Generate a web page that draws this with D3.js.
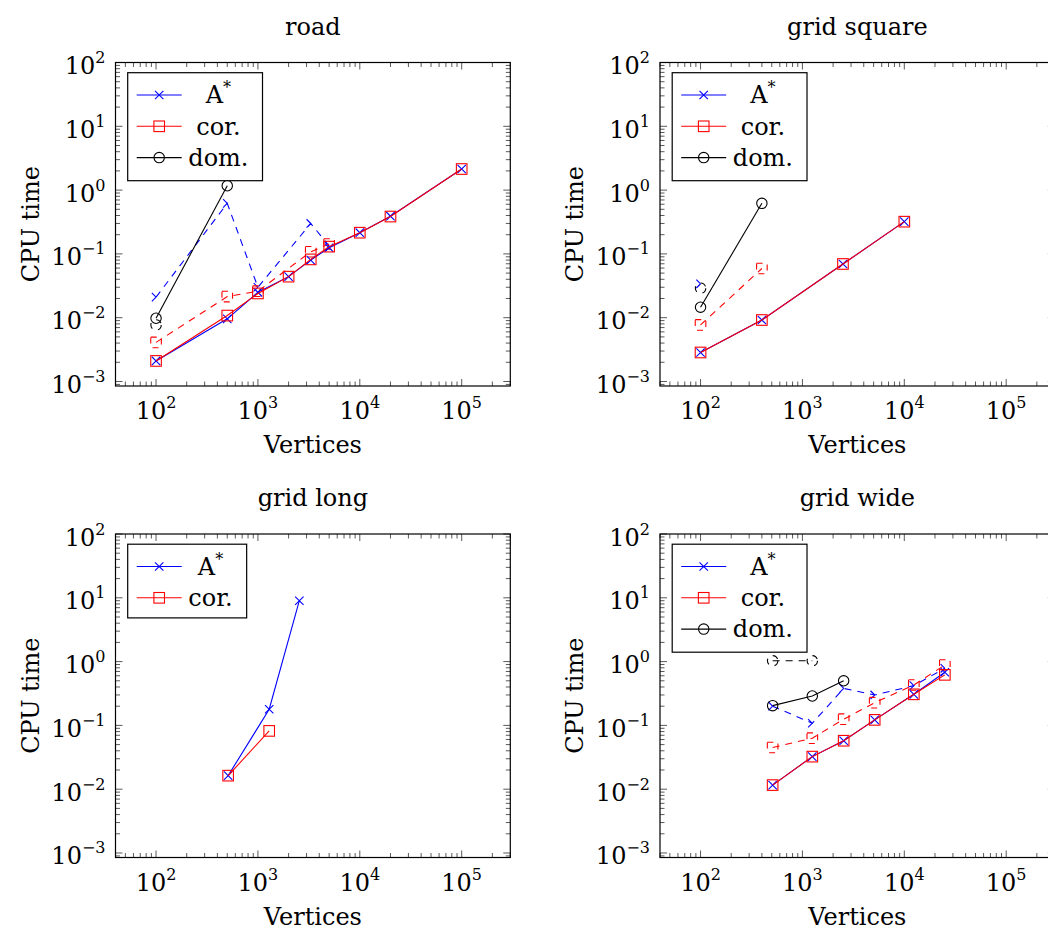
<!DOCTYPE html>
<html>
<head>
<meta charset="utf-8">
<script src="https://cdn.jsdelivr.net/npm/d3@7"></script>
<style>
  html, body { margin: 0; padding: 0; background: #fff; }
  text { font-family: "DejaVu Serif", serif; fill: #000; }
</style>
</head>
<body>
<svg id="chart" width="1048" height="929"></svg>
<script>
// ---------- data ----------
const xTicks = [1e2, 1e3, 1e4, 1e5];
const yTicks = [1e-3, 1e-2, 1e-1, 1e0, 1e1, 1e2];
const xTickExp = ["2", "3", "4", "5"];
const yTickExp = ["\u22123", "\u22122", "\u22121", "0", "1", "2"];
const xDomain = [40, 300000];
const yDomain = [0.00085, 100];

const panelTitles = ["road", "grid square", "grid long", "grid wide"];
const legendNames = ["A", "cor.", "dom."];

// road
const roadX = [100, 500, 1000, 2000, 3300, 5000, 10000, 20000, 100000];
const roadAstar = [0.0021, 0.0096, 0.025, 0.044, 0.080, 0.125, 0.215, 0.39, 2.14];
const roadCor = [0.0021, 0.0108, 0.024, 0.044, 0.082, 0.13, 0.215, 0.385, 2.14];
const roadDomX = [100, 500];
const roadDom = [0.0098, 1.17];
const roadAstarDashX = [100, 500, 1000, 3300, 5000];
const roadAstarDash = [0.021, 0.62, 0.030, 0.30, 0.133];
const roadCorDashX = [100, 500, 1000, 3300, 5000];
const roadCorDash = [0.0041, 0.0214, 0.026, 0.108, 0.143];
const roadDomDashX = [100];
const roadDomDash = [0.0077];

// grid square
const sqX = [100, 400, 2500, 10000];
const sqAstar = [0.00285, 0.0092, 0.0695, 0.32];
const sqCor = [0.00285, 0.0092, 0.0695, 0.32];
const sqDomX = [100, 400];
const sqDom = [0.0146, 0.62];
const sqAstarDashX = [100];
const sqAstarDash = [0.034];
const sqCorDashX = [100, 400];
const sqCorDash = [0.0077, 0.059];
const sqDomDashX = [100];
const sqDomDash = [0.029];

// grid long
const longX = [510, 1290, 2550];
const longAstar = [0.0163, 0.179, 9.0];
const longCorX = [510, 1290];
const longCor = [0.0163, 0.082];

// grid wide
const wideX = [510, 1250, 2540, 5120, 12400, 25000];
const wideAstar = [0.0116, 0.0324, 0.0575, 0.122, 0.307, 0.68];
const wideCor = [0.0116, 0.0324, 0.0575, 0.122, 0.307, 0.62];
const wideDomX = [510, 1250, 2540];
const wideDom = [0.204, 0.289, 0.50];
const wideAstarDash = [0.20, 0.108, 0.38, 0.30, 0.42, 0.785];
const wideCorDash = [0.045, 0.063, 0.125, 0.227, 0.43, 0.885];
const wideDomDashX = [510, 1250];
const wideDomDash = [1.03, 1.03];

// ---------- build ----------
const zip = (xs, ys) => xs.map((x, i) => [x, ys[i]]);
const BLUE = "#0000ff", RED = "#ff0000", BLACK = "#000000";
const styles = {
  A: { color: BLUE, marker: "cross" },
  cor: { color: RED, marker: "square" },
  dom: { color: BLACK, marker: "circle" }
};

const panels = [
  { title: panelTitles[0], left: 115.5, top: 62.5, legend: 3,
    series: [
      { s: "A", dash: true, pts: zip(roadAstarDashX, roadAstarDash) },
      { s: "cor", dash: true, pts: zip(roadCorDashX, roadCorDash) },
      { s: "dom", dash: true, pts: zip(roadDomDashX, roadDomDash) },
      { s: "A", dash: false, pts: zip(roadX, roadAstar) },
      { s: "cor", dash: false, pts: zip(roadX, roadCor) },
      { s: "dom", dash: false, pts: zip(roadDomX, roadDom) }
    ] },
  { title: panelTitles[1], left: 660, top: 62.5, legend: 3,
    series: [
      { s: "A", dash: true, pts: zip(sqAstarDashX, sqAstarDash) },
      { s: "cor", dash: true, pts: zip(sqCorDashX, sqCorDash) },
      { s: "dom", dash: true, pts: zip(sqDomDashX, sqDomDash) },
      { s: "A", dash: false, pts: zip(sqX, sqAstar) },
      { s: "cor", dash: false, pts: zip(sqX, sqCor) },
      { s: "dom", dash: false, pts: zip(sqDomX, sqDom) }
    ] },
  { title: panelTitles[2], left: 115.5, top: 534, legend: 2,
    series: [
      { s: "A", dash: false, pts: zip(longX, longAstar) },
      { s: "cor", dash: false, pts: zip(longCorX, longCor) }
    ] },
  { title: panelTitles[3], left: 660, top: 534, legend: 3,
    series: [
      { s: "A", dash: true, pts: zip(wideX, wideAstarDash) },
      { s: "cor", dash: true, pts: zip(wideX, wideCorDash) },
      { s: "dom", dash: true, pts: zip(wideDomDashX, wideDomDash) },
      { s: "A", dash: false, pts: zip(wideX, wideAstar) },
      { s: "cor", dash: false, pts: zip(wideX, wideCor) },
      { s: "dom", dash: false, pts: zip(wideDomX, wideDom) }
    ] }
];

const W = 394.8, H = 323.5;
const svg = d3.select("#chart");
const FS = 24;
const DASH = "7,6";
const TICKC = "#5a5a5a";

function drawMarker(g, type, cx, cy, color, dash) {
  const sw = 1.1;
  let el;
  if (type === "cross") {
    const r = 4.2;
    el = g.append("path")
      .attr("d", `M${cx - r},${cy - r}L${cx + r},${cy + r}M${cx - r},${cy + r}L${cx + r},${cy - r}`);
  } else if (type === "square") {
    const r = 5.3;
    el = g.append("rect").attr("x", cx - r).attr("y", cy - r)
      .attr("width", 2 * r).attr("height", 2 * r);
  } else {
    el = g.append("circle").attr("cx", cx).attr("cy", cy).attr("r", 5.2);
  }
  el.attr("fill", "none").attr("stroke", color).attr("stroke-width", sw);
  if (dash) el.attr("stroke-dasharray", "6,6");
}

function powLabel(sel, exp, anchor) {
  const t = sel.append("text").attr("font-size", FS).attr("text-anchor", anchor);
  t.append("tspan").text("10");
  t.append("tspan").attr("font-size", 16).attr("dy", -11).text(exp);
  return t;
}

panels.forEach((p, pi) => {
  const x = d3.scaleLog().domain(xDomain).range([p.left, p.left + W]);
  const y = d3.scaleLog().domain(yDomain).range([p.top + H, p.top]);
  const g = svg.append("g");

  const clipId = "clip" + pi;
  svg.append("clipPath").attr("id", clipId).append("rect")
    .attr("x", p.left).attr("y", p.top).attr("width", W).attr("height", H);

  const xMinor = x.ticks(30).filter(v => v >= xDomain[0] && v <= xDomain[1]);
  const yMinor = y.ticks(30).filter(v => v >= yDomain[0] && v <= yDomain[1]);
  const isMajor = v => Math.abs(Math.log10(v) - Math.round(Math.log10(v))) < 1e-9;
  const tk = g.append("g").attr("stroke", TICKC).attr("stroke-width", 1);
  xMinor.forEach(v => {
    const L = isMajor(v) ? 7 : 4.5;
    const px = x(v);
    tk.append("line").attr("x1", px).attr("x2", px).attr("y1", p.top + H).attr("y2", p.top + H - L);
    tk.append("line").attr("x1", px).attr("x2", px).attr("y1", p.top).attr("y2", p.top + L);
  });
  yMinor.forEach(v => {
    const L = isMajor(v) ? 7 : 4.5;
    const py = y(v);
    tk.append("line").attr("y1", py).attr("y2", py).attr("x1", p.left).attr("x2", p.left + L);
    tk.append("line").attr("y1", py).attr("y2", py).attr("x1", p.left + W).attr("x2", p.left + W - L);
  });

  g.append("rect").attr("x", p.left).attr("y", p.top).attr("width", W).attr("height", H)
    .attr("fill", "none").attr("stroke", "#000").attr("stroke-width", 1.2);

  xTicks.forEach((v, i) => {
    powLabel(g, xTickExp[i], "middle").attr("x", x(v)).attr("y", p.top + H + 33);
  });
  yTicks.forEach((v, i) => {
    powLabel(g, yTickExp[i], "end").attr("x", p.left - 10).attr("y", y(v) + 11.5);
  });

  g.append("text").attr("x", p.left + W / 2).attr("y", p.top - 28)
    .attr("text-anchor", "middle").attr("font-size", FS).text(p.title);
  g.append("text").attr("x", p.left + W / 2).attr("y", p.top + H + 67)
    .attr("text-anchor", "middle").attr("font-size", FS).text("Vertices");
  g.append("text").attr("transform", `translate(${p.left - 77},${p.top + H / 2}) rotate(-90)`)
    .attr("text-anchor", "middle").attr("font-size", FS).text("CPU time");

  const line = d3.line().x(d => x(d[0])).y(d => y(d[1]));
  const sg = g.append("g");
  p.series.forEach(sr => {
    const st = styles[sr.s];
    const path = sg.append("path").datum(sr.pts).attr("d", line)
      .attr("fill", "none").attr("stroke", st.color).attr("stroke-width", 1.1)
      .attr("clip-path", `url(#${clipId})`);
    if (sr.dash) path.attr("stroke-dasharray", DASH);
    sr.pts.forEach(d => drawMarker(sg, st.marker, x(d[0]), y(d[1]), st.color, sr.dash));
  });

  const n = p.legend;
  const lg = g.append("g");
  const bx = p.left + 12.2, by = p.top + 10.2;
  const rowGap = 31.3;
  const texts = [];
  const tx0 = bx + 60.6;
  const keys = ["A", "cor", "dom"];
  for (let i = 0; i < n; i++) {
    const t = lg.append("text").attr("font-size", FS).attr("text-anchor", "middle")
      .attr("y", by + 22.3 + i * rowGap + 8.3);
    if (i === 0) {
      t.append("tspan").text(legendNames[0]);
      t.append("tspan").attr("font-size", 16).attr("dy", -10).text("*");
    } else {
      t.text(legendNames[i]);
    }
    texts.push(t);
  }
  const maxW = d3.max(texts, t => t.node().getComputedTextLength());
  texts.forEach(t => t.attr("x", tx0 + maxW / 2));
  const bw = 60.6 + maxW + 14;
  const bh = n === 3 ? 108 : 73.7;
  lg.insert("rect", "text").attr("x", bx).attr("y", by).attr("width", bw).attr("height", bh)
    .attr("fill", "#fff").attr("stroke", "#000").attr("stroke-width", 1.2);
  for (let i = 0; i < n; i++) {
    const cy = by + 22.3 + i * rowGap;
    const st = styles[keys[i]];
    lg.append("line").attr("x1", bx + 9).attr("x2", bx + 54).attr("y1", cy).attr("y2", cy)
      .attr("stroke", st.color).attr("stroke-width", 1.1);
    drawMarker(lg, st.marker, bx + 31.5, cy, st.color, false);
  }
});
</script>
</body>
</html>
